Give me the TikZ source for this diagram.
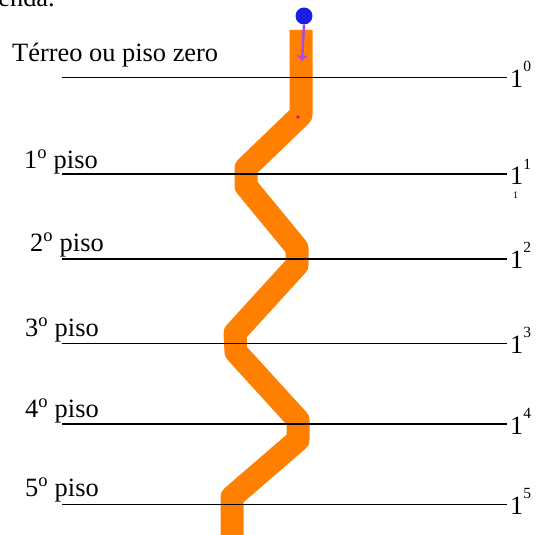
\documentclass[tikz,border=0pt]{standalone}
\usepackage{fontspec}
\setmainfont{Liberation Serif}
\usetikzlibrary{arrows.meta}
\definecolor{routeorange}{RGB}{255,128,0}
\definecolor{dotblue}{RGB}{25,30,225}
\definecolor{arrowpurple}{RGB}{175,70,230}
\newcommand{\powlbl}[1]{1\raisebox{16pt}{\fontsize{15.5}{15.5}\selectfont #1}}
\begin{document}
\begin{tikzpicture}[x=1pt,y=-1pt,
  lbl/.style={anchor=base west,inner sep=0pt,font=\fontsize{26.4}{30}\selectfont},
  floorline/.style={line width=1.8pt,black},
  route/.style={line width=23pt,color=routeorange,line join=round},
  walkarrow/.style={line width=2.4pt,color=arrowpurple,-{To[length=6pt,width=10pt,line width=2pt]}}]
\useasboundingbox (0,0) rectangle (539,535);
\clip (0,0) rectangle (539,535);

% cut-off text at top
\node[lbl,anchor=base east] (top) at (55,7) {enda.};

% orange route
\draw[route] (301,30) -- (301,115) -- (246,168) -- (246,186) -- (297,248) -- (297,265)
  -- (235,333) -- (236,352) -- (298,420) -- (298,440) -- (232,497) -- (232,535);

% small mark
\fill[color=magenta!80!red] (298,117) circle (1.8);

% floor lines
\foreach \i/\y in {0/77.5,1/174,2/259,3/343.5,4/424,5/504.5}{
  \coordinate (la\i) at (62,\y);
  \coordinate (lb\i) at (507,\y);
  \draw[floorline] (la\i) -- (lb\i);
}

% left labels
\node[lbl] (t0) at (12,62) {Térreo ou piso zero};
\node[lbl] (t1) at (24,168) {1\textsuperscript{o} piso};
\node[lbl] (t2) at (30,251) {2\textsuperscript{o} piso};
\node[lbl] (t3) at (25,336) {3\textsuperscript{o} piso};
\node[lbl] (t4) at (25,417) {4\textsuperscript{o} piso};
\node[lbl] (t5) at (25,496) {5\textsuperscript{o} piso};

% right labels
\node[lbl] (p0) at (510,88) {\powlbl{0}};
\node[lbl] (p1) at (510,185) {\powlbl{1}};
\node[lbl] (p2) at (510,268) {\powlbl{2}};
\node[lbl] (p3) at (510,353) {\powlbl{3}};
\node[lbl] (p4) at (510,434) {\powlbl{4}};
\node[lbl] (p5) at (510,514) {\powlbl{5}};
\node[anchor=base west,inner sep=0pt,font=\fontsize{10}{10}\selectfont] (tick) at (513,198) {1};

% start point and arrow
\node[circle,fill=dotblue,inner sep=0pt,minimum size=17pt] (start) at (304,16) {};
\coordinate (arrend) at (302,61);
\draw[walkarrow] (start.south) -- (arrend);
\end{tikzpicture}
\end{document}
